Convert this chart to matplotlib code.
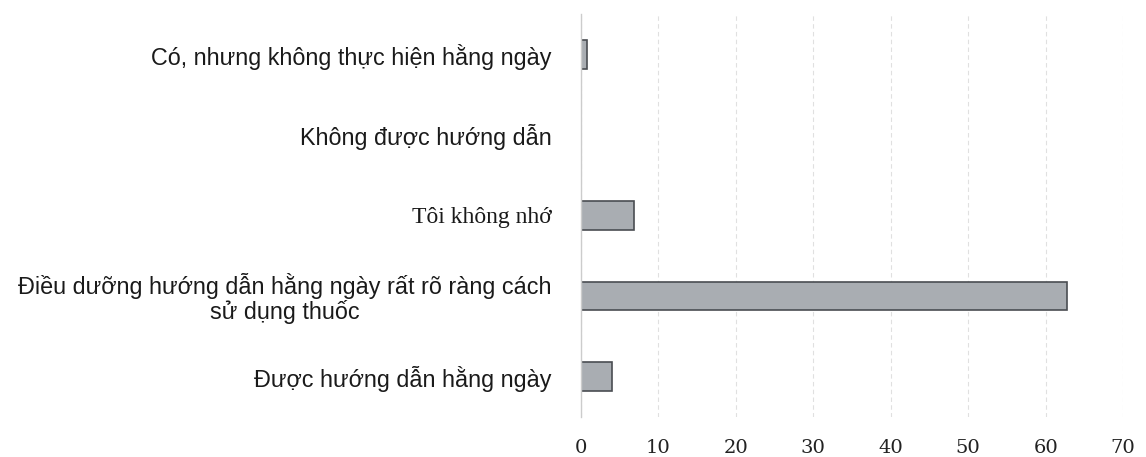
import matplotlib.pyplot as plt

categories = [
    "Có, nhưng không thực hiện hằng ngày",
    "Không được hướng dẫn",
    "Tôi không nhớ",
    "Điều dưỡng hướng dẫn hằng ngày rất rõ ràng cách\nsử dụng thuốc",
    "Được hướng dẫn hằng ngày",
]
values = [0.8, 0, 6.8, 62.8, 4]
xticks = [0, 10, 20, 30, 40, 50, 60, 70]

fig = plt.figure(figsize=(11.46, 4.57), dpi=100)
ax = fig.add_axes([0.507, 0.088, 0.473, 0.881])

ypos = list(range(len(categories)))
ax.barh(ypos, values, height=0.35, color="#a9adb2", edgecolor="#4a4d52", linewidth=1.2)

ax.set_xlim(0, 70)
ax.set_ylim(len(categories) - 0.5, -0.5)
ax.set_xticks(xticks)
ax.set_xticklabels([str(t) for t in xticks], family="DejaVu Serif", fontsize=14, color="#222222")
ax.set_yticks(ypos)
ax.set_yticklabels(categories, family="Liberation Sans", fontsize=16.8, color="#1a1a1a")
for lbl in ax.get_yticklabels():
    lbl.set_multialignment("center")
    lbl.set_linespacing(1.05)
    if lbl.get_text() == "Tôi không nhớ":
        lbl.set_family("Liberation Serif")
        lbl.set_fontsize(17)

ax.tick_params(axis="y", length=0, pad=21)
ax.tick_params(axis="x", length=0, pad=16)
ax.grid(axis="x", color="#e0e0e0", linewidth=0.8, linestyle=(0, (4, 3)))
ax.set_axisbelow(True)
for side in ["top", "right", "bottom"]:
    ax.spines[side].set_visible(False)
ax.spines["left"].set_color("#cccccc")
ax.spines["left"].set_linewidth(1)

fig.savefig("out.png", dpi=100)
